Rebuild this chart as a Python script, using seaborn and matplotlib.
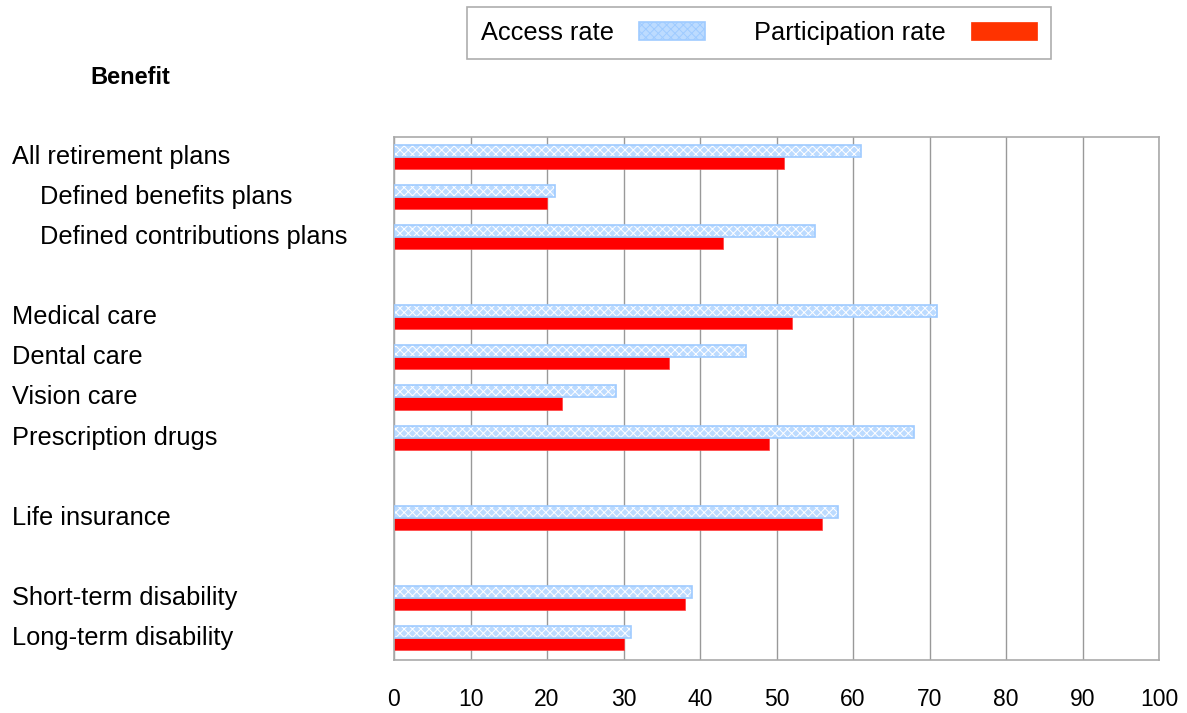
import numpy as np
import pandas as pd
import matplotlib
matplotlib.use("Agg")
import matplotlib.pyplot as plt
from matplotlib.patches import Rectangle, Patch
from matplotlib.transforms import blended_transform_factory
import seaborn as sns

# ---- data ----
categories = ["All retirement plans", "Defined benefits plans", "Defined contributions plans",
              "Medical care", "Dental care", "Vision care", "Prescription drugs",
              "Life insurance", "Short-term disability", "Long-term disability"]
access_rate = [61, 21, 55, 71, 46, 29, 68, 58, 39, 31]
participation_rate = [51, 20, 43, 52, 36, 22, 49, 56, 38, 30]
series_names = ["Access rate", "Participation rate"]
indented = ["Defined benefits plans", "Defined contributions plans"]
# slot order, with blank separator slots between groups
order = ["All retirement plans", "Defined benefits plans", "Defined contributions plans", "_gap1",
         "Medical care", "Dental care", "Vision care", "Prescription drugs", "_gap2",
         "Life insurance", "_gap3",
         "Short-term disability", "Long-term disability"]
x_ticks = [0, 10, 20, 30, 40, 50, 60, 70, 80, 90, 100]

df = pd.DataFrame({
    "Benefit": categories * 2,
    "Rate": access_rate + participation_rate,
    "Measure": [series_names[0]] * len(categories) + [series_names[1]] * len(categories),
})

sns.set_style("white")
plt.rcParams["font.family"] = ["Liberation Sans", "DejaVu Sans"]
plt.rcParams["hatch.linewidth"] = 0.7
plt.rcParams["text.color"] = "black"
plt.rcParams["xtick.labelcolor"] = "black"

W, H = 1187, 713
fig = plt.figure(figsize=(W / 100, H / 100), dpi=100)
ax = fig.add_axes([394 / W, 1 - 660 / H, (1159 - 394) / W, (660 - 137) / H])

blue_face = "#bcdbff"
blue_edge = "#9fcbff"
red = "#ff0000"

sns.barplot(data=df, y="Benefit", x="Rate", hue="Measure", order=order,
            hue_order=series_names, palette=[blue_face, red], width=0.6,
            saturation=1, orient="h", ax=ax, legend=False)

# style bars
for bar in ax.containers[0]:
    bar.set_facecolor(blue_face)
    bar.set_edgecolor("white")
    bar.set_hatch("xxxx")
    bar.set_linewidth(0)
    ax.add_patch(Rectangle(bar.get_xy(), bar.get_width(), bar.get_height(),
                           fill=False, edgecolor=blue_edge, linewidth=1.2, zorder=3))
for bar in ax.containers[1]:
    bar.set_facecolor(red)
    bar.set_edgecolor("#ff4040")
    bar.set_linewidth(0.5)

ax.set_xlim(0, 100)
ax.set_ylim(len(order) - 0.45, -0.5)
ax.set_xticks(x_ticks)
ax.set_xticklabels([str(t) for t in x_ticks], family=["Liberation Sans Narrow", "Liberation Sans"],
                   fontsize=16.5, color="black")
ax.tick_params(axis="x", direction="out", length=6, width=1, color="#999999", pad=14)
ax.set_yticks([])
ax.set_yticks(np.arange(-0.5, len(order), 1), minor=True)
ax.tick_params(axis="y", which="minor", direction="out", length=3, width=1, color="#999999")
ax.set_xlabel("")
ax.set_ylabel("")
ax.grid(axis="x", color="#999999", linewidth=1)
ax.set_axisbelow(True)
for s in ax.spines.values():
    s.set_color("#aaaaaa")
    s.set_linewidth(1.2)

# category labels, left aligned in figure
tr = blended_transform_factory(fig.transFigure, ax.transData)
for i, name in enumerate(order):
    if name.startswith("_gap"):
        continue
    x0 = (40 if name in indented else 12) / W
    ax.text(x0, i, name, transform=tr, ha="left", va="center", fontsize=18.3, color="black")

fig.text(90 / W, 1 - 78 / H, "Benefit", ha="left", va="center", fontsize=17,
         fontweight="bold", color="black")

handles = [Patch(facecolor=blue_face, edgecolor=blue_edge, hatch="xxxx", linewidth=1.2),
           Patch(facecolor="#ff3300", edgecolor="#ff3300", linewidth=0.5)]
leg = fig.legend(handles, series_names, loc="center",
                 bbox_to_anchor=((468 + 1050) / 2 / W, 1 - 33 / H), ncol=2,
                 markerfirst=False, fontsize=18.3, frameon=True, fancybox=False,
                 handlelength=2.6, handleheight=0.75, columnspacing=1.9, handletextpad=1.0,
                 borderpad=0.55, borderaxespad=0)
for t in leg.get_texts():
    t.set_color("black")
leg.get_frame().set_edgecolor("#999999")
leg.get_frame().set_linewidth(1.2)

fig.savefig("out.png", dpi=100)
